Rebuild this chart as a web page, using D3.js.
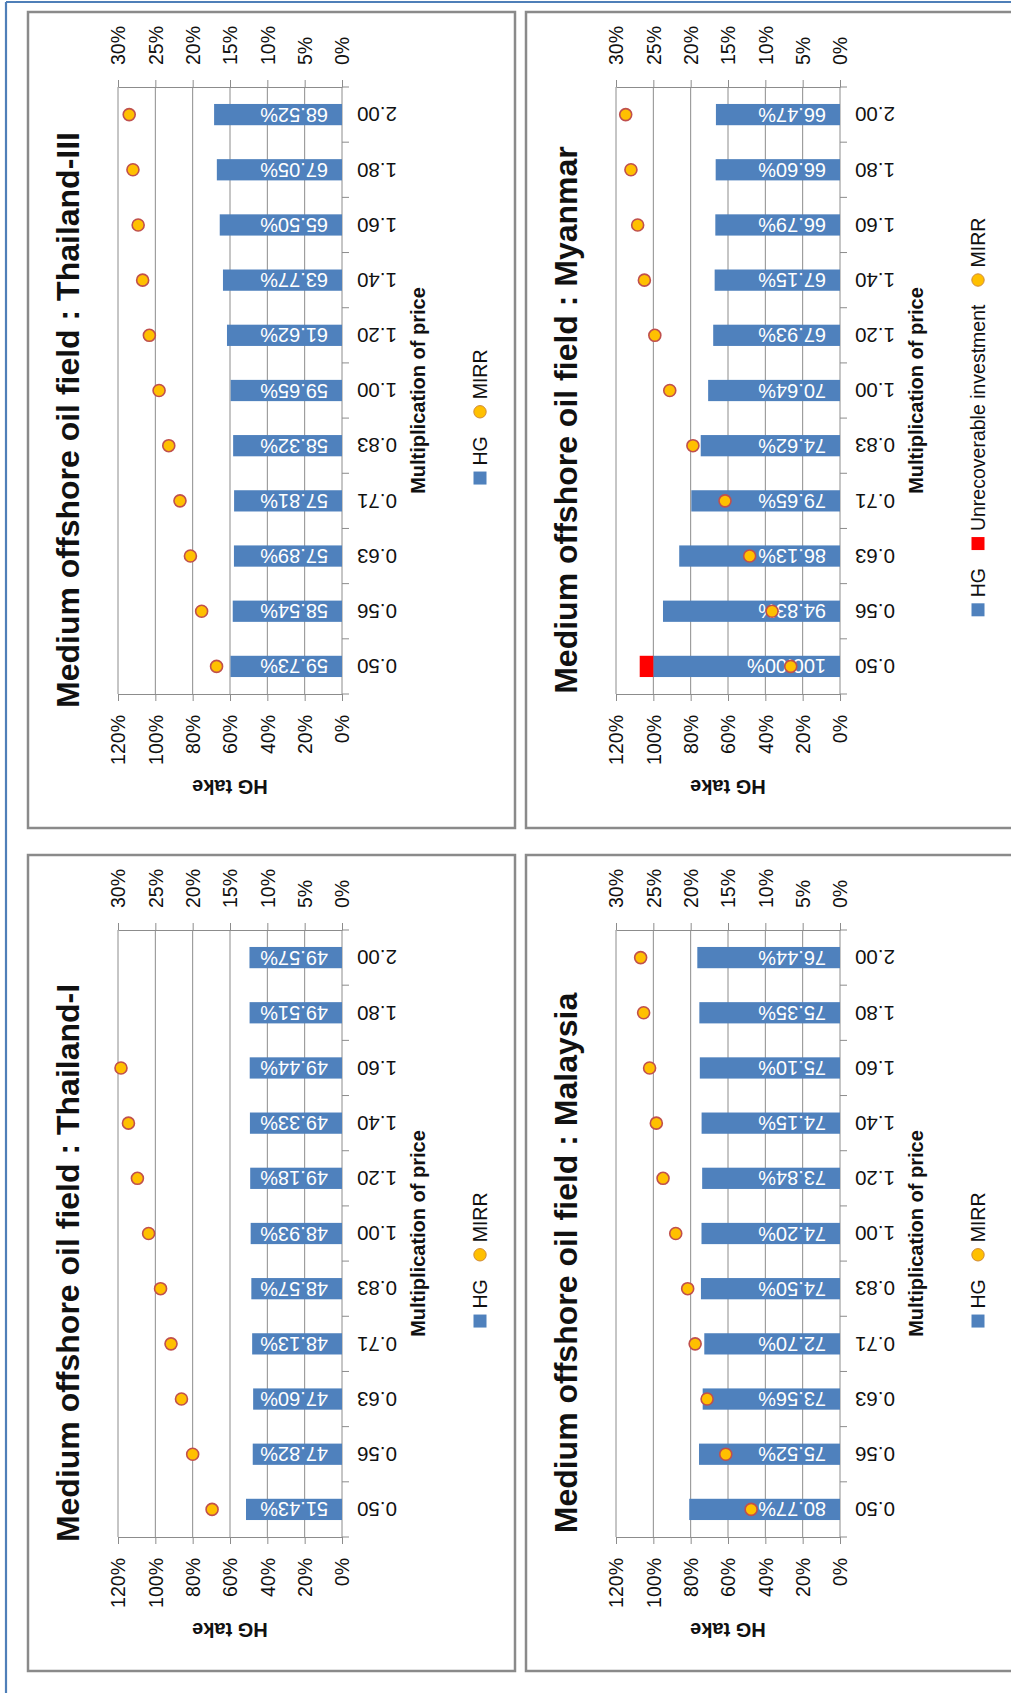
<!DOCTYPE html>
<html>
<head>
<meta charset="utf-8">
<script src="https://cdn.jsdelivr.net/npm/d3@7"></script>
<style>
  body { margin: 0; background: #fff; }
  svg { display: block; }
  text { font-family: "Liberation Sans", Arial, sans-serif; fill: #111; }
</style>
</head>
<body>
<svg id="page" width="1011" height="1693"></svg>
<script>
// Price multipliers (category axis)
const categories = ["0.50", "0.56", "0.63", "0.71", "0.83", "1.00", "1.20", "1.40", "1.60", "1.80", "2.00"];

// Thailand-III
const hgThailand3   = [59.73, 58.54, 57.89, 57.81, 58.32, 59.65, 61.62, 63.77, 65.50, 67.05, 68.52];
const mirrThailand3 = [16.8, 18.8, 20.3, 21.7, 23.2, 24.5, 25.8, 26.7, 27.3, 28.0, 28.5];

// Thailand-I (MIRR above the 30% axis maximum at 1.80 and 2.00 is not plotted)
const hgThailand1   = [51.43, 47.82, 47.60, 48.13, 48.57, 48.93, 49.18, 49.33, 49.44, 49.51, 49.57];
const mirrThailand1 = [17.4, 20.0, 21.5, 22.9, 24.3, 25.9, 27.4, 28.6, 29.6, null, null];

// Myanmar
const hgMyanmar            = [100.00, 94.83, 86.13, 79.65, 74.62, 70.64, 67.93, 67.15, 66.79, 66.60, 66.47];
const unrecoverableMyanmar = [7.3, 0, 0, 0, 0, 0, 0, 0, 0, 0, 0];
const mirrMyanmar          = [6.6, 9.1, 12.1, 15.4, 19.7, 22.8, 24.8, 26.2, 27.1, 28.0, 28.7];

// Malaysia
const hgMalaysia   = [80.77, 75.52, 73.56, 72.70, 74.50, 74.20, 73.84, 74.15, 75.10, 75.35, 76.44];
const mirrMalaysia = [11.9, 15.3, 17.8, 19.4, 20.4, 22.0, 23.7, 24.6, 25.5, 26.3, 26.7];

// Axis ticks
const hgTicks   = [0, 20, 40, 60, 80, 100, 120];
const mirrTicks = [0, 5, 10, 15, 20, 25, 30];

const BLUE = "#4f81bd", RED = "#ff0000", GOLD = "#ffc000", DOT_EDGE = "#c0504d";
const GRID = "#8c8c8c";

const panels = [
  { title: "Medium offshore oil field : Thailand-III", x: 28,  y: 12,  hg: hgThailand3, mirr: mirrThailand3 },
  { title: "Medium offshore oil field : Myanmar",      x: 526, y: 12,  hg: hgMyanmar,   mirr: mirrMyanmar, unrec: unrecoverableMyanmar },
  { title: "Medium offshore oil field : Thailand-I",   x: 28,  y: 855, hg: hgThailand1, mirr: mirrThailand1 },
  { title: "Medium offshore oil field : Malaysia",     x: 526, y: 855, hg: hgMalaysia,  mirr: mirrMalaysia }
];

const svg = d3.select("#page");

// page frame
svg.append("line").attr("x1", 6).attr("x2", 1011).attr("y1", 2).attr("y2", 2)
  .attr("stroke", "#4f7fb8").attr("stroke-width", 2.2);
svg.append("line").attr("x1", 6).attr("x2", 6).attr("y1", 2).attr("y2", 1693)
  .attr("stroke", "#4f7fb8").attr("stroke-width", 2.2);

const PW = 487, PH = 816;
const PLOT = { left: 90, right: 314, top: 75, bottom: 682 };

function drawPanel(p) {
  const g = svg.append("g").attr("transform", `translate(${p.x},${p.y})`);

  g.append("rect").attr("width", PW).attr("height", PH)
    .attr("fill", "#fff").attr("stroke", "#8a8a8a").attr("stroke-width", 2.5);

  const hgScale = d3.scaleLinear().domain([0, 120]).range([PLOT.right, PLOT.left]);
  const mirrScale = d3.scaleLinear().domain([0, 30]).range([PLOT.right, PLOT.left]);
  const cat = d3.scaleBand().domain(categories).range([PLOT.bottom, PLOT.top])
    .paddingInner(0.615).paddingOuter(0.3075);
  const bw = cat.bandwidth();

  // vertical gridlines
  g.append("g").selectAll("line").data(hgTicks.filter(t => t > 0)).join("line")
    .attr("x1", d => hgScale(d)).attr("x2", d => hgScale(d))
    .attr("y1", PLOT.top).attr("y2", PLOT.bottom)
    .attr("stroke", GRID).attr("stroke-width", 1);

  // HG take axis (bottom)
  const hgAxis = g.append("g").attr("transform", `translate(0,${PLOT.bottom})`)
    .call(d3.axisBottom(hgScale).tickValues(hgTicks).tickSize(7).tickSizeOuter(0)
      .tickFormat(d => d + "%"));
  hgAxis.select(".domain").attr("stroke", GRID);
  hgAxis.selectAll(".tick line").attr("stroke", GRID);
  hgAxis.selectAll(".tick text")
    .attr("transform", "rotate(-90)").attr("x", -21).attr("y", 0).attr("dy", "0.35em")
    .attr("text-anchor", "end").style("font-size", "19.5px").style("font-family", null).attr("fill", "#111");

  // MIRR axis (top)
  const mAxis = g.append("g").attr("transform", `translate(0,${PLOT.top})`)
    .call(d3.axisTop(mirrScale).tickValues(mirrTicks).tickSize(7).tickSizeOuter(0)
      .tickFormat(d => d + "%"));
  mAxis.select(".domain").attr("stroke", GRID);
  mAxis.selectAll(".tick line").attr("stroke", GRID);
  mAxis.selectAll(".tick text")
    .attr("transform", "rotate(-90)").attr("x", 22).attr("y", 0).attr("dy", "0.35em")
    .attr("text-anchor", "start").style("font-size", "19.5px").style("font-family", null).attr("fill", "#111");

  // category axis line with boundary ticks
  g.append("line").attr("x1", PLOT.right).attr("x2", PLOT.right)
    .attr("y1", PLOT.top).attr("y2", PLOT.bottom).attr("stroke", GRID);
  const bounds = d3.range(categories.length + 1).map(i => PLOT.bottom - i * cat.step());
  g.append("g").selectAll("line").data(bounds).join("line")
    .attr("x1", PLOT.right).attr("x2", PLOT.right + 7)
    .attr("y1", d => d).attr("y2", d => d).attr("stroke", GRID);

  // category labels
  g.append("g").selectAll("text").data(categories).join("text")
    .attr("transform", d => `translate(329,${cat(d) + bw / 2}) rotate(180)`)
    .attr("dy", "0.35em").attr("text-anchor", "end")
    .style("font-size", "20.5px").text(d => d);

  // HG bars
  g.append("g").selectAll("rect").data(p.hg).join("rect")
    .attr("x", d => hgScale(d)).attr("width", d => hgScale(0) - hgScale(d))
    .attr("y", (d, i) => cat(categories[i])).attr("height", bw)
    .attr("fill", BLUE);

  // unrecoverable investment stacked on top of HG
  if (p.unrec) {
    g.append("g").selectAll("rect").data(p.unrec.map((u, i) => ({ u, i })).filter(d => d.u > 0)).join("rect")
      .attr("x", d => hgScale(p.hg[d.i] + d.u))
      .attr("width", d => hgScale(p.hg[d.i]) - hgScale(p.hg[d.i] + d.u))
      .attr("y", d => cat(categories[d.i])).attr("height", bw)
      .attr("fill", RED);
  }

  // bar value labels (inside base)
  g.append("g").selectAll("text").data(p.hg).join("text")
    .attr("transform", (d, i) => `translate(300,${cat(categories[i]) + bw / 2}) rotate(180)`)
    .attr("dy", "0.35em").attr("text-anchor", "start")
    .style("font-size", "20px").style("fill", "#fff")
    .text(d => d.toFixed(2) + "%");

  // MIRR markers
  g.append("g").selectAll("circle")
    .data(p.mirr.map((v, i) => ({ v, i })).filter(d => d.v !== null)).join("circle")
    .attr("cx", d => mirrScale(d.v)).attr("cy", d => cat(categories[d.i]) + bw / 2)
    .attr("r", 6).attr("fill", GOLD).attr("stroke", DOT_EDGE).attr("stroke-width", 1.6);

  // title
  g.append("text").attr("transform", `translate(40,${PH / 2}) rotate(-90)`)
    .attr("dy", "0.35em").attr("text-anchor", "middle")
    .style("font-size", "32px").style("font-weight", "bold").text(p.title);

  // axis titles
  g.append("text").attr("transform", `translate(390,${(PLOT.top + PLOT.bottom) / 2}) rotate(-90)`)
    .attr("dy", "0.35em").attr("text-anchor", "middle")
    .style("font-size", "20px").style("font-weight", "bold").text("Multiplication of price");
  g.append("text").attr("transform", `translate(${(PLOT.left + PLOT.right) / 2},775) rotate(180)`)
    .attr("dy", "0.35em").attr("text-anchor", "middle")
    .style("font-size", "20px").style("font-weight", "bold").text("HG take");

  // legend
  const items = [{ kind: "rect", color: BLUE, label: "HG" }];
  if (p.unrec) items.push({ kind: "rect", color: RED, label: "Unrecoverable investment" });
  items.push({ kind: "dot", color: GOLD, label: "MIRR" });

  const lg = g.append("g");
  const LX = 452, MS = 13, GAP1 = 6, GAP2 = 18;
  const placed = items.map(it => {
    const t = lg.append("text").attr("text-anchor", "start").attr("dy", "0.35em")
      .style("font-size", "19.5px").text(it.label);
    return { it, t, w: t.node().getComputedTextLength() };
  });
  const total = d3.sum(placed, d => MS + GAP1 + d.w) + GAP2 * (placed.length - 1);
  let cursor = 405 + total / 2;
  placed.forEach(d => {
    if (d.it.kind === "rect") {
      lg.append("rect").attr("x", LX - MS / 2).attr("y", cursor - MS)
        .attr("width", MS).attr("height", MS).attr("fill", d.it.color);
    } else {
      lg.append("circle").attr("cx", LX).attr("cy", cursor - MS / 2).attr("r", 6.2)
        .attr("fill", d.it.color).attr("stroke", "#d08a3a").attr("stroke-width", 1);
    }
    const ty = cursor - MS - GAP1;
    d.t.attr("transform", `translate(${LX},${ty}) rotate(-90)`);
    cursor = ty - d.w - GAP2;
  });
}

panels.forEach(drawPanel);
</script>
</body>
</html>
